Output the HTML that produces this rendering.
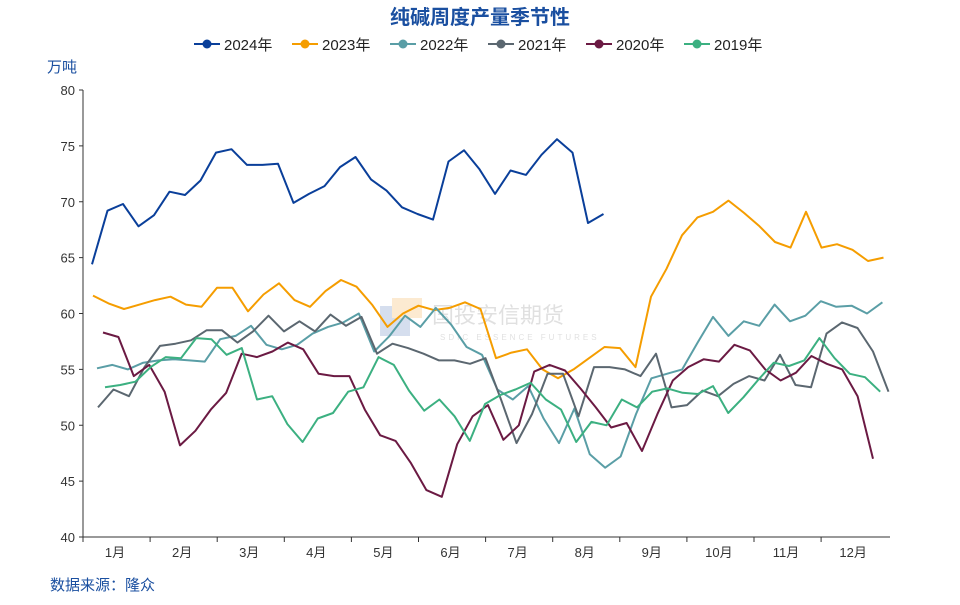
<!DOCTYPE html>
<html><head><meta charset="utf-8"><style>
body{margin:0;background:#fff;}
svg{font-family:"Liberation Sans","Noto Sans CJK SC",sans-serif;}
</style></head><body>
<svg id="chart" width="960" height="600">
<text x="480" y="24" text-anchor="middle" font-size="20" font-weight="bold" fill="#1a4fa0">纯碱周度产量季节性</text>
<text x="47" y="72" font-size="15" fill="#1a4fa0">万吨</text>
<text x="50" y="590" font-size="15" fill="#1a4fa0">数据来源：隆众</text>
<g opacity="0.25">
<rect x="380" y="306" width="30" height="30" fill="#5a7fbf"/><rect x="392" y="298" width="30" height="20" fill="#f7b04a"/>
<text x="432" y="323" font-size="22" fill="#888">国投安信期货</text>
<text x="440" y="340" font-size="8" fill="#888" letter-spacing="3">SDIC ESSENCE FUTURES</text>
</g>
<g id="axes"></g><g id="legend"></g><g id="series"></g>
</svg>
<script>
const yTicks=[80,75,70,65,60,55,50,45,40];
const months=["1月","2月","3月","4月","5月","6月","7月","8月","9月","10月","11月","12月"];
const years=["2024年","2023年","2022年","2021年","2020年","2019年"];
const s2024=[64.4,69.2,69.8,67.8,68.8,70.9,70.6,71.9,74.4,74.7,73.3,73.3,73.4,69.9,70.7,71.4,73.1,74.0,72.0,71.0,69.5,68.9,68.4,73.6,74.6,72.9,70.7,72.8,72.4,74.2,75.6,74.4,68.1,68.9];
const s2023=[61.6,60.9,60.4,60.8,61.2,61.5,60.8,60.6,62.3,62.3,60.2,61.7,62.7,61.2,60.6,62.0,63.0,62.4,60.8,58.8,60.0,60.7,60.3,60.5,61.0,60.4,56.0,56.5,56.8,55.0,54.2,55.0,56.0,57.0,56.9,55.2,61.5,64.0,67.0,68.6,69.1,70.1,69.0,67.8,66.4,65.9,69.1,65.9,66.2,65.7,64.7,65.0];
const s2022=[55.1,55.4,55.0,55.6,55.8,55.9,55.8,55.7,57.7,58.0,58.9,57.2,56.8,57.2,58.2,58.8,59.2,60.0,56.6,58.0,59.8,58.8,60.5,59.0,57.0,56.3,53.2,52.3,53.5,50.6,48.4,51.5,47.4,46.2,47.2,51.0,54.2,54.6,55.0,57.4,59.7,58.0,59.3,58.9,60.8,59.3,59.8,61.1,60.6,60.7,60.0,61.0];
const s2021=[51.6,53.2,52.6,55.2,57.1,57.3,57.6,58.5,58.5,57.4,58.4,59.8,58.4,59.3,58.4,59.9,58.9,59.7,56.4,57.3,56.9,56.4,55.8,55.8,55.5,56.0,52.3,48.4,51.0,54.6,54.6,50.8,55.2,55.2,55.0,54.4,56.4,51.6,51.8,53.1,52.6,53.7,54.4,54.0,56.3,53.6,53.4,58.2,59.2,58.7,56.6,53.0];
const s2020=[58.3,57.9,54.4,55.4,53.0,48.2,49.5,51.4,52.9,56.4,56.1,56.6,57.4,56.8,54.6,54.4,54.4,51.4,49.1,48.6,46.6,44.2,43.6,48.3,50.8,51.8,48.7,50.0,54.8,55.4,54.9,53.3,51.6,49.8,50.2,47.7,51.0,54.0,55.2,55.9,55.7,57.2,56.7,55.0,54.0,54.7,56.2,55.5,55.0,52.6,47.0];
const s2019=[53.4,53.6,53.9,55.2,56.1,56.0,57.8,57.7,56.3,56.9,52.3,52.6,50.1,48.5,50.6,51.1,53.0,53.4,56.1,55.4,53.1,51.3,52.3,50.8,48.6,51.9,52.7,53.2,53.8,52.3,51.4,48.5,50.3,50.0,52.3,51.6,53.0,53.3,52.9,52.8,53.5,51.1,52.5,54.1,55.6,55.3,55.8,57.8,56.0,54.6,54.3,53.0];
const seriesData=[s2024,s2023,s2022,s2021,s2020,s2019];
const colors=["#0a3f9a","#f59d00","#5a9ea6","#5b6770","#6b1a43","#3cb081"];
const xStart=[92,93,97,98,103,105];
const xStep=[15.5,15.5,15.4,15.5,15.4,15.2];
const NS="http://www.w3.org/2000/svg";
const y=v=>537-(v-40)*(447/40);
function mk(tag,attrs,parent){const e=document.createElementNS(NS,tag);for(const k in attrs)e.setAttribute(k,attrs[k]);parent.appendChild(e);return e;}
const axes=document.getElementById('axes');
let l=mk('line',{x1:83,y1:90,x2:83,y2:537,stroke:'#333','stroke-width':1},axes);


l=mk('line',{x1:83,y1:537,x2:890,y2:537,stroke:'#333','stroke-width':1},axes);


yTicks.forEach(v=>{const t=mk('text',{x:75,y:y(v)+5,'text-anchor':'end','font-size':13,fill:'#333'},axes);t.textContent=v;


mk('line',{x1:79,y1:y(v),x2:83,y2:y(v),stroke:'#333'},axes);});
months.forEach((m,i)=>{const t=mk('text',{x:115+67.1*i,y:557,'text-anchor':'middle','font-size':13,fill:'#333'},axes);t.textContent=m;


mk('line',{x1:83+67.1*i,y1:537,x2:83+67.1*i,y2:542,stroke:'#333'},axes);});
const lg=document.getElementById('legend');
const lgX=[194,292,390,488,586,684];
years.forEach((yr,i)=>{const g=mk('g',{},lg);


mk('line',{x1:lgX[i],y1:44,x2:lgX[i]+26,y2:44,stroke:colors[i],'stroke-width':2},g);
mk('circle',{cx:lgX[i]+13,cy:44,r:4.5,fill:colors[i]},g);
const t=mk('text',{x:lgX[i]+30,y:50,'font-size':15,fill:'#222'},g);t.textContent=yr;});
const sg=document.getElementById('series');
seriesData.forEach((d,i)=>{const pts=d.map((v,k)=>(xStart[i]+xStep[i]*k).toFixed(1)+','+y(v).toFixed(1)).join(' ');
const p=mk('polyline',{points:pts,fill:'none',stroke:colors[i],'stroke-width':2,'stroke-linejoin':'round'},sg);

});
</script>
</body></html>
